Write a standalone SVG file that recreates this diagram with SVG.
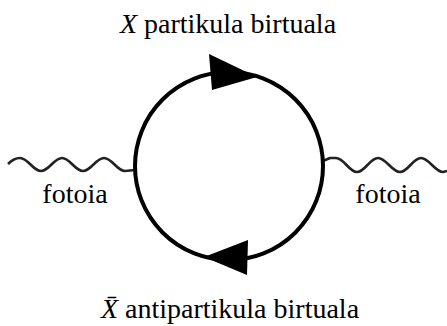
<svg xmlns="http://www.w3.org/2000/svg" width="447" height="326" viewBox="0 0 447 326">
<style>
text{font-family:"Liberation Serif","Times New Roman",serif;font-size:28px;fill:#000;text-anchor:middle}
.it{font-style:italic}
.loop{fill:none;stroke:#000;stroke-width:4}
.wave{fill:none;stroke:#222;stroke-width:2.6;stroke-linejoin:round}
.head{fill:#000;stroke:none}
</style>
<rect width="447" height="326" fill="#fff"/>
<g id="connectors">
<path class="wave" d="M8,164 C12,160 15,158 20,158 C28,158 33,171 41,171 C49,171 54,158 62,158 C70,158 75,171 83,171 C91,171 96,158 104,158 C112,158 117,171 125,171 L135,170"/>
<path class="wave" d="M323,161 L330,158 L336,158 C344,158 349,172 357,172 C365,172 370,158 378,158 C386,158 392,172 400,172 C408,172 413,158 421,158 C429,158 435,172 443,172 L447,171"/>
</g>
<g id="loop">
<circle class="loop" cx="229" cy="166" r="94"/>
<polygon class="head" points="257,77 209,54 212,90"/>
<polygon class="head" points="204,257 248,240 247,275"/>
</g>
<g id="label-top"><text x="228" y="33"><tspan class="it">X</tspan> partikula birtuala</text></g>
<g id="label-left"><text x="75" y="203">fotoia</text></g>
<g id="label-right"><text x="388" y="203">fotoia</text></g>
<g id="label-bottom"><text x="230" y="318"><tspan class="it">X&#x0304;</tspan> antipartikula birtuala</text></g>
</svg>
